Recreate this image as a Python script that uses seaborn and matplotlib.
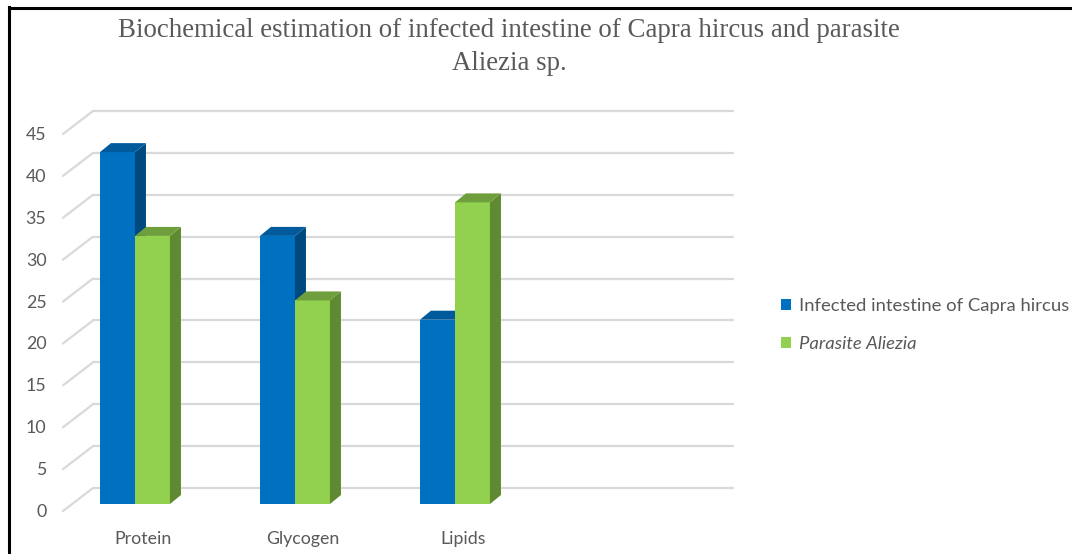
import numpy as np
import pandas as pd
import seaborn as sns
import matplotlib
matplotlib.use("Agg")
import matplotlib.pyplot as plt
from matplotlib.lines import Line2D
from matplotlib.patches import Polygon, Patch
from matplotlib.transforms import ScaledTranslation

# ---- data ----
categories = ["Protein", "Glycogen", "Lipids"]
series_names = ["Infected intestine of Capra hircus", "Parasite Aliezia"]
host_values = [42, 32, 22]
parasite_values = [32, 24.3, 36]
y_ticks = [0, 5, 10, 15, 20, 25, 30, 35, 40, 45]
title = "Biochemical estimation of infected intestine of Capra hircus and parasite\nAliezia sp."

# ---- style ----
front_cols = ["#0070C0", "#92D050"]
side_cols = ["#00497E", "#5F8A32"]
top_cols = ["#005A9C", "#6F9E3C"]
text_col = "#595959"
grid_col = "#D9D9D9"
fs = 12.8

sns.set_theme(style="white")
plt.rcParams["font.family"] = ["Lato", "DejaVu Sans"]

W, H, DPI = 10.72, 5.54, 100
fig = plt.figure(figsize=(W, H), dpi=DPI)
fig.patch.set_facecolor("white")

# axes rectangle = bar front plane (pixels)
ax_l, ax_r, ax_b, ax_t = 70, 710, 504, 127
ax = fig.add_axes([ax_l / 1072, (554 - ax_b) / 554, (ax_r - ax_l) / 1072, (ax_b - ax_t) / 554])
ax.set_facecolor("none")

df = pd.DataFrame({
    "category": categories * 2,
    "series": [series_names[0]] * 3 + [series_names[1]] * 3,
    "value": host_values + parasite_values,
})
sns.barplot(data=df, x="category", y="value", hue="series", order=categories,
            hue_order=series_names, palette=front_cols, width=0.4375,
            saturation=1, linewidth=0, ax=ax, legend=False)

ax.set_ylim(0, 45)
ax.set_xlim(-0.406, 3.594)
ax.set_yticks(y_ticks)
ax.set_xlabel("")
ax.set_ylabel("")
for s in ax.spines.values():
    s.set_visible(False)
ax.grid(False)
ax.tick_params(axis="both", length=0, colors=text_col, labelsize=fs)
ax.tick_params(axis="y", pad=17)
ax.tick_params(axis="x", pad=19.5)
for lab in ax.get_yticklabels():
    lab.set_transform(lab.get_transform() + ScaledTranslation(0, -0.065, fig.dpi_scale_trans))
for lab in ax.get_xticklabels():
    lab.set_transform(lab.get_transform() + ScaledTranslation(0.08, 0, fig.dpi_scale_trans))

to_fig = fig.transFigure.inverted()
to_ax = ax.transAxes.inverted()

def px2f(pts):
    return to_fig.transform(np.asarray(pts, dtype=float))

def px2a(pts):
    return to_ax.transform(np.asarray(pts, dtype=float))

# back wall gridlines + left floor diagonals
back_dx, back_dy = 23, 16
front_dx, front_dy = -7, -7
x_left = ax.get_xlim()[0]
x_right = ax.get_xlim()[1]
for t in y_ticks:
    (lx, ly), (rx, ry) = ax.transData.transform([(x_left, t), (x_right, t)])
    gl = Line2D(*zip(*px2f([(lx + back_dx, ly + back_dy), (rx + back_dx, ry + back_dy)])),
                transform=fig.transFigure, color=grid_col, lw=1.6, zorder=0)
    dl = Line2D(*zip(*px2f([(lx + front_dx, ly + front_dy), (lx + back_dx, ly + back_dy)])),
                transform=fig.transFigure, color=grid_col, lw=1.6, zorder=0)
    fig.add_artist(gl)
    fig.add_artist(dl)

# 3D faces on bars (inside the axes so stacking order works)
dx, dy = 11, 9
bars = [p for p in ax.patches if p.get_height() > 0]
for p in bars:
    fc = p.get_facecolor()
    idx = 0 if fc[0] < 0.2 else 1
    z = 2 + idx
    p.set_zorder(z)
    x0, x1 = p.get_x(), p.get_x() + p.get_width()
    h = p.get_height()
    (ax0, ay0), (ax1, ay1) = ax.transData.transform([(x0, 0), (x1, h)])
    side = [(ax1, ay0), (ax1 + dx, ay0 + dy), (ax1 + dx, ay1 + dy), (ax1, ay1)]
    top = [(ax0, ay1), (ax1, ay1), (ax1 + dx, ay1 + dy), (ax0 + dx, ay1 + dy)]
    ax.add_patch(Polygon(px2a(side), closed=True, transform=ax.transAxes, clip_on=False,
                         facecolor=side_cols[idx], edgecolor="none", zorder=z + 0.1))
    ax.add_patch(Polygon(px2a(top), closed=True, transform=ax.transAxes, clip_on=False,
                         facecolor=top_cols[idx], edgecolor="none", zorder=z + 0.1))

# title
fig.text(509 / 1072, 1 - 47 / 554, title, ha="center", va="center",
         multialignment="center", fontsize=19.4, color=text_col,
         family=["Liberation Serif", "DejaVu Serif"], linespacing=1.42)

# legend
handles = [Patch(facecolor=c, edgecolor="none") for c in front_cols]
leg = fig.legend(handles, series_names, loc="center left",
                 bbox_to_anchor=(781 / 1072, 1 - 325 / 554), frameon=False,
                 fontsize=13.3, handlelength=0.55, handleheight=0.55,
                 handletextpad=0.45, labelspacing=1.15, borderpad=0, borderaxespad=0)
for t in leg.get_texts():
    t.set_color(text_col)
leg.get_texts()[1].set_style("italic")

# border lines
fig.add_artist(Line2D([9 / 1072, 9 / 1072], [1 - 7 / 554, 0], transform=fig.transFigure,
                      color="black", lw=2.2, solid_capstyle="projecting"))
fig.add_artist(Line2D([9 / 1072, 1], [1 - 7.5 / 554, 1 - 7.5 / 554], transform=fig.transFigure,
                      color="black", lw=2.2, solid_capstyle="projecting"))

fig.savefig("out.png", dpi=DPI)
